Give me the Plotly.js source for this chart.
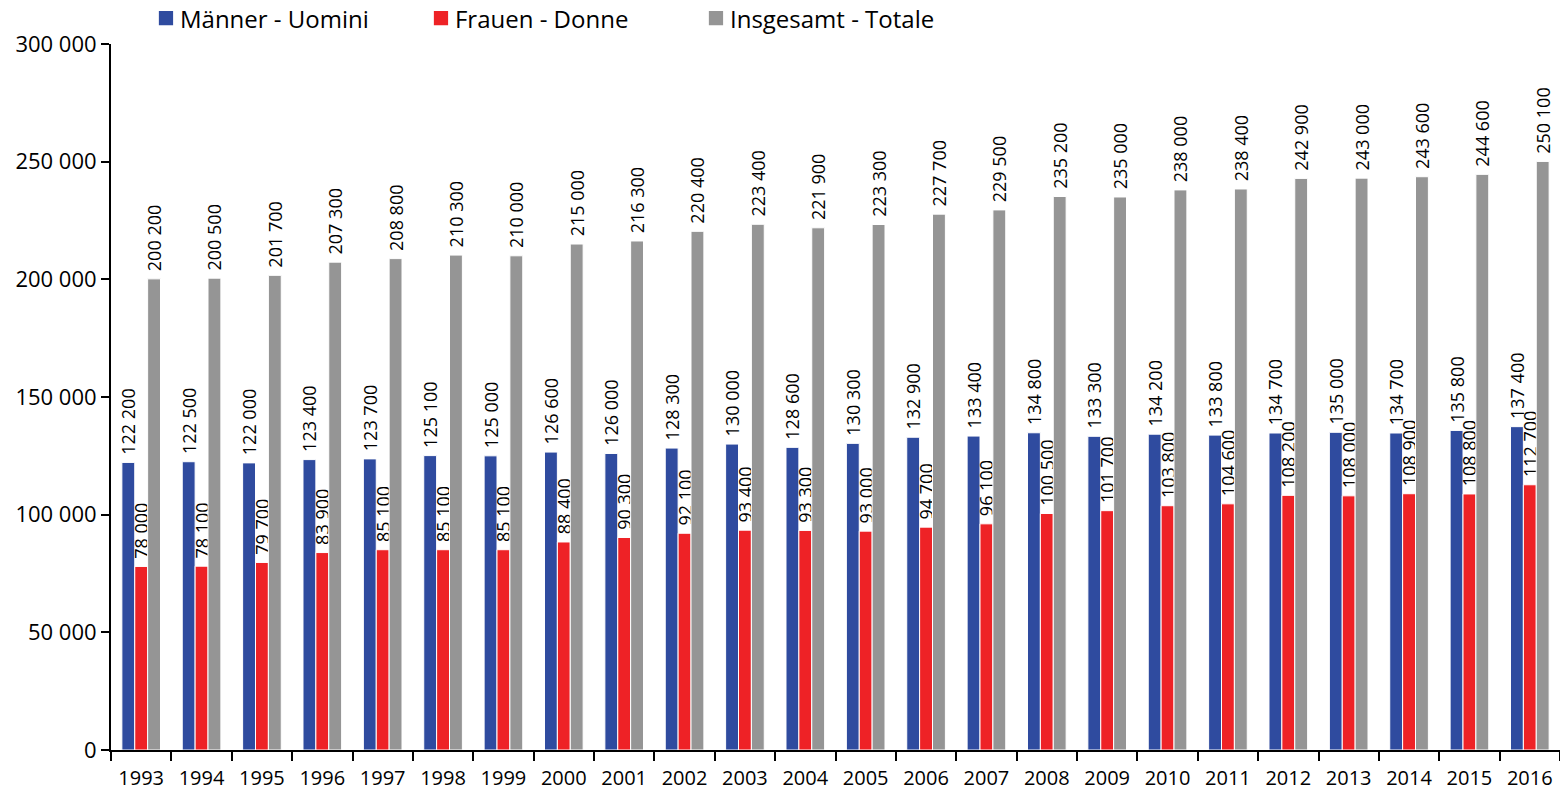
<!DOCTYPE html>
<html>
<head>
<meta charset="utf-8">
<script src="https://cdn.plot.ly/plotly-3.0.1.min.js"></script>
<style>html,body{margin:0;padding:0;background:#fff;}#chart{width:1560px;height:793px;}</style>
</head>
<body>
<div id="chart"></div>
<script>
const years = ['1993','1994','1995','1996','1997','1998','1999','2000','2001','2002','2003','2004','2005','2006','2007','2008','2009','2010','2011','2012','2013','2014','2015','2016'];
const men = [122200,122500,122000,123400,123700,125100,125000,126600,126000,128300,130000,128600,130300,132900,133400,134800,133300,134200,133800,134700,135000,134700,135800,137400];
const women = [78000,78100,79700,83900,85100,85100,85100,88400,90300,92100,93400,93300,93000,94700,96100,100500,101700,103800,104600,108200,108000,108900,108800,112700];
const total = [200200,200500,201700,207300,208800,210300,210000,215000,216300,220400,223400,221900,223300,227700,229500,235200,235000,238000,238400,242900,243000,243600,244600,250100];
const seriesNames = ['Männer - Uomini','Frauen - Donne','Insgesamt - Totale'];
const seriesColors = ['#2f4b9f','#ee2226','#959595'];

const FONT = 'Open Sans, sans-serif';
function mk(vals, i) {
  return {
    type: 'bar', x: years, y: vals, name: seriesNames[i],
    marker: {color: seriesColors[i], line: {color: '#ffffff', width: 1}},
    texttemplate: '\u00a0%{y:,d}', textposition: 'outside', textangle: -90,
    constraintext: 'none', cliponaxis: false,
    textfont: {family: FONT, size: 18, color: '#000'},
    hoverinfo: 'x+y'
  };
}
const data = [mk(men,0), mk(women,1), mk(total,2)];
const layout = {
  width: 1560, height: 793,
  margin: {l: 111, r: 0, t: 44, b: 43, autoexpand: false},
  paper_bgcolor: '#fff', plot_bgcolor: '#fff',
  separators: ', ',
  font: {family: FONT, color: '#000'},
  barmode: 'group', bargap: 0.36, bargroupgap: 0,
  showlegend: true,
  legend: {orientation: 'h', x: 0.02, xanchor: 'left', y: 1.036, yanchor: 'middle',
    font: {family: FONT, size: 24, color: '#000'}, entrywidth: 230, entrywidthmode: 'pixels',
    traceorder: 'normal', bgcolor: 'rgba(0,0,0,0)'},
  xaxis: {type: 'category', showline: true, linecolor: '#000', linewidth: 2,
    ticks: 'outside', tickson: 'boundaries', ticklen: 9, tickwidth: 2, tickcolor: '#000',
    ticklabelstandoff: 9, tickangle: 0, automargin: false,
    tickfont: {family: FONT, size: 20, color: '#000'}, showgrid: false, zeroline: false,
    fixedrange: true},
  yaxis: {range: [0, 300000], dtick: 50000, tickformat: ',d', showline: true, linecolor: '#000', linewidth: 2,
    ticks: 'outside', ticklen: 8, tickwidth: 2, tickcolor: '#000', showgrid: false, zeroline: false,
    automargin: false,
    tickfont: {family: FONT, size: 22, color: '#000'}, fixedrange: true}
};
Plotly.newPlot('chart', data, layout, {displayModeBar: false, staticPlot: true}).then(function(gd){
  // enlarge legend swatches slightly, as in the reference
  document.querySelectorAll('.legend .legendpoints path').forEach(function(p){
    p.setAttribute('transform', 'translate(26,0) scale(1.3)');
  });
});
</script>
</body>
</html>
